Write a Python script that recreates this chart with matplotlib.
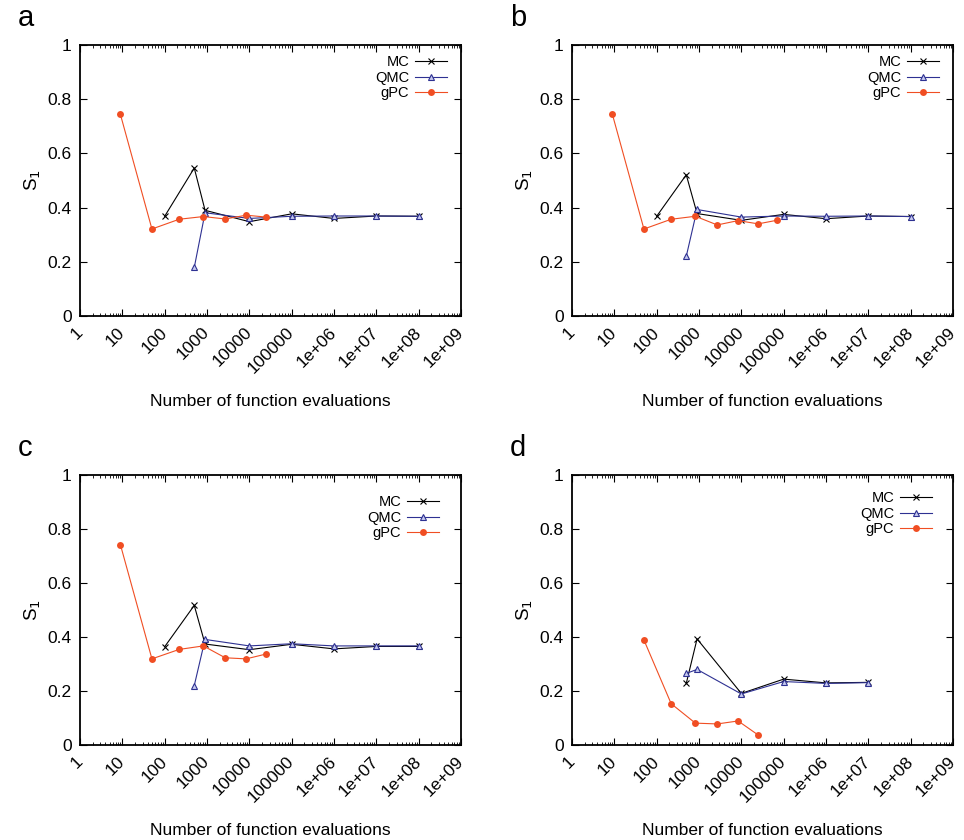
import matplotlib
matplotlib.use("Agg")
import matplotlib.pyplot as plt
from matplotlib.ticker import FixedLocator, NullFormatter

plt.rcParams['font.family'] = ['Liberation Sans', 'DejaVu Sans']

# ---- data ----
xtick_vals = [1, 10, 100, 1000, 10000, 100000, 1e6, 1e7, 1e8, 1e9]
xtick_labels = ["1", "10", "100", "1000", "10000", "100000", "1e+06", "1e+07", "1e+08", "1e+09"]
ytick_vals = [0, 0.2, 0.4, 0.6, 0.8, 1]
ytick_labels = ["0", "0.2", "0.4", "0.6", "0.8", "1"]

mc_n = [100, 500, 900, 1e4, 1e5, 1e6, 1e7, 1e8]
qmc_n = [500, 900, 1e4, 1e5, 1e6, 1e7, 1e8]
gpc_n7 = [9, 50, 220, 820, 2700, 8400, 25000]
gpc_n8 = [9, 50, 220, 820, 2700, 8400, 25000, 68000]

mc_a = [0.368, 0.546, 0.390, 0.348, 0.377, 0.360, 0.369, 0.368]
qmc_a = [0.179, 0.381, 0.360, 0.368, 0.369, 0.369, 0.368]
gpc_a = [0.744, 0.321, 0.357, 0.367, 0.358, 0.372, 0.365]

mc_b = [0.368, 0.521, 0.378, 0.353, 0.375, 0.359, 0.369, 0.367]
qmc_b = [0.220, 0.393, 0.365, 0.369, 0.368, 0.369, 0.367]
gpc_b = [0.744, 0.321, 0.357, 0.368, 0.336, 0.352, 0.340, 0.353]

mc_c = [0.364, 0.517, 0.374, 0.353, 0.373, 0.356, 0.365, 0.365]
qmc_c = [0.220, 0.391, 0.367, 0.375, 0.367, 0.367, 0.367]
gpc_c = [0.742, 0.319, 0.354, 0.367, 0.323, 0.319, 0.337]

mc_n_d = [500, 900, 1e4, 1e5, 1e6, 1e7]
qmc_n_d = [500, 900, 1e4, 1e5, 1e6, 1e7]
gpc_n_d = [50, 220, 820, 2700, 8400, 25000]
mc_d = [0.228, 0.393, 0.191, 0.244, 0.230, 0.232]
qmc_d = [0.265, 0.280, 0.189, 0.235, 0.228, 0.231]
gpc_d = [0.389, 0.153, 0.081, 0.078, 0.089, 0.037]

panels = [
    ("a", mc_n, mc_a, qmc_n, qmc_a, gpc_n7, gpc_a),
    ("b", mc_n, mc_b, qmc_n, qmc_b, gpc_n8, gpc_b),
    ("c", mc_n, mc_c, qmc_n, qmc_c, gpc_n7, gpc_c),
    ("d", mc_n_d, mc_d, qmc_n_d, qmc_d, gpc_n_d, gpc_d),
]

# ---- styles ----
W, H = 964, 840
fig = plt.figure(figsize=(W / 100, H / 100), dpi=100)
mc_color = "black"
qmc_color = "#2e3192"
gpc_color = "#f04e23"

# axes boxes in pixels: left, top, right, bottom
boxes = {
    "a": (80, 45, 461, 316),
    "b": (572, 45, 953, 316),
    "c": (80, 475, 461, 745),
    "d": (572, 475, 953, 745),
}
legend_off = {"a": (14, 10), "b": (14, 10), "c": (22, 20), "d": (21, 16)}

for (letter, mx, my, qx, qy, gx, gy) in panels:
    l, t, r, b = boxes[letter]
    ax = fig.add_axes([l / W, 1 - b / H, (r - l) / W, (b - t) / H])
    ax.plot(mx, my, color=mc_color, lw=0.8, marker="x", ms=5, mew=0.8, label="MC")
    ax.plot(qx, qy, color=qmc_color, lw=0.8, marker="^", ms=5, mew=0.8,
            mfc="#c5c9ee", mec=qmc_color, label="QMC")
    ax.plot(gx, gy, color=gpc_color, lw=0.8, marker="o", ms=5, mew=0,
            mfc=gpc_color, label="gPC")
    ax.set_xscale("log")
    ax.set_xlim(1, 1e9)
    ax.set_ylim(0, 1)
    ax.set_xticks(xtick_vals)
    ax.set_xticklabels(xtick_labels, rotation=45, ha="right", va="center",
                       rotation_mode="anchor", fontsize=12.5)
    minors = [m * 10 ** e for e in range(0, 9) for m in range(2, 10)]
    ax.xaxis.set_minor_locator(FixedLocator(minors))
    ax.xaxis.set_minor_formatter(NullFormatter())
    ax.set_yticks(ytick_vals)
    ax.set_yticklabels(ytick_labels, fontsize=12.5)
    ax.tick_params(axis="both", which="major", direction="in", length=5, width=0.8,
                   top=True, right=True)
    ax.tick_params(axis="x", which="minor", direction="in", length=2.5, width=0.6,
                   top=True)
    ax.tick_params(axis="x", which="major", pad=10)
    ax.tick_params(axis="y", which="major", pad=6)
    for s in ax.spines.values():
        s.set_linewidth(1.3)
    ax.set_xlabel("Number of function evaluations", fontsize=12.5, labelpad=13)
    ax.set_ylabel("S$_1$", fontsize=13.5, labelpad=3)
    dx, dy = legend_off[letter]
    ax.legend(loc="upper right",
              bbox_to_anchor=((r - dx) / W, 1 - (t + dy) / H),
              bbox_transform=fig.transFigure,
              frameon=False, markerfirst=False, fontsize=10.5,
              handlelength=2.2, handletextpad=0.4, labelspacing=0.12,
              borderpad=0, borderaxespad=0)
    fig.text((l - 62) / W, 1 - (t - 27) / H, letter, fontsize=21, ha="left", va="center")

fig.savefig("out.png", dpi=100)
